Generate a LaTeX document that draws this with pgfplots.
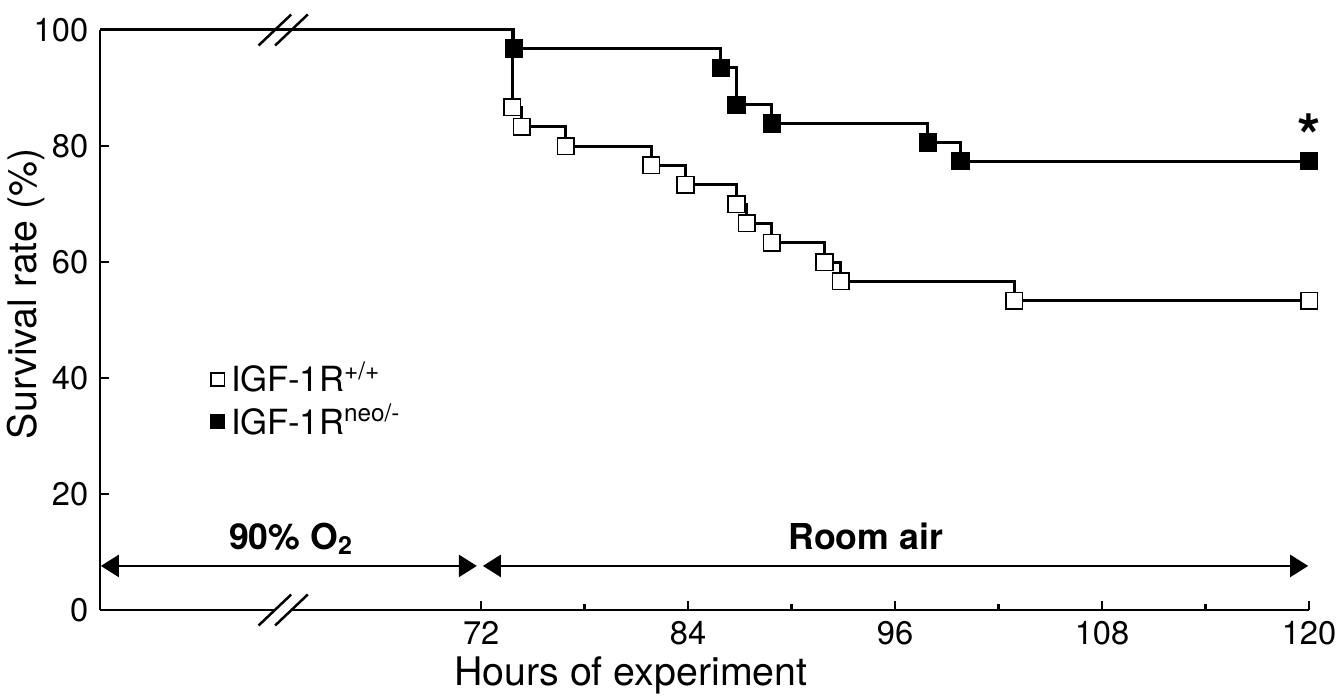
\documentclass[border=0pt]{standalone}
\usepackage{fontspec}
\setmainfont{TeX Gyre Heros}
\usepackage{pgfplots}
\pgfplotsset{compat=1.18}
\usetikzlibrary{arrows.meta}

\begin{document}
\begin{tikzpicture}
\useasboundingbox (-30pt,-25.8pt) rectangle (372.9pt,183pt);
\begin{axis}[
  scale only axis, width=362.7pt, height=174pt,
  xmin=49.9, xmax=120, ymin=0, ymax=100,
  axis x line=bottom, axis y line=left,
  axis line style={-, line width=0.75pt},
  xtick={72,84,96,108,120}, minor xtick={78,90,102,114},
  ytick={0,20,40,60,80,100},
  tick align=inside, major tick length=2.7pt, minor tick length=1.8pt,
  every tick/.style={black, line width=0.75pt},
  /pgf/number format/assume math mode=true,
  ticklabel style={font=\fontsize{9.8}{11}\selectfont},
  xlabel={Hours of experiment}, ylabel={Survival rate (\%)},
  label style={font=\fontsize{11.8}{13}\selectfont},
  xlabel style={at={(axis description cs:0.439,0)}, anchor=base, yshift=-22.5pt},
  ylabel style={at={(axis description cs:-0.0612,0.545)}, anchor=center},
  clip=false,
  legend style={at={(axis cs:56.3,44.0)}, anchor=north west, draw=none, fill=none,
    inner sep=0pt, row sep=-1.8pt, font=\fontsize{10.4}{12}\selectfont,
    /tikz/every even column/.append style={column sep=2pt}},
  legend cell align=left,
  legend image code/.code={\draw[#1, mark size=2pt] plot coordinates {(0.1cm,0cm)};},
]
% survival curves (lines)
\addplot[const plot, black, line width=0.9pt, forget plot] coordinates {
 (49.9,100) (73.8,86.7) (74.35,83.3) (76.9,80.0) (81.85,76.7) (83.85,73.3)
 (86.8,70.0) (87.4,66.7) (88.85,63.3) (91.9,60.0) (92.85,56.7) (102.9,53.3) (120,53.3)};
\addplot[const plot, black, line width=0.9pt, forget plot] coordinates {
 (49.9,100) (73.9,96.8) (85.9,93.5) (86.8,87.1) (88.85,83.9) (97.9,80.6) (99.8,77.4) (120,77.4)};
% markers
\addplot[only marks, mark=square*, mark size=2.5pt, mark options={fill=white, draw=black, line width=0.5pt}] coordinates {
 (73.8,86.7) (74.35,83.3) (76.9,80.0) (81.85,76.7) (83.85,73.3)
 (86.8,70.0) (87.4,66.7) (88.85,63.3) (91.9,60.0) (92.85,56.7) (102.9,53.3) (120,53.3)};
\addlegendentry{IGF-1R\textsuperscript{+/+}}
\addplot[only marks, mark=square*, mark size=2.5pt, mark options={fill=black, draw=black, line width=0.5pt}] coordinates {
 (73.9,96.8) (85.9,93.5) (86.8,87.1) (88.85,83.9) (97.9,80.6) (99.8,77.4) (120,77.4)};
\addlegendentry{IGF-1R\textsuperscript{neo/-}}

% axis break marks
\draw[white, line width=0.8pt] (axis cs:60.1,0) -- (axis cs:60.95,0);
\draw[black, line width=0.75pt] (axis cs:60.04,100) ++(-4.9pt,-4.65pt) -- ++(9.8pt,9.3pt);
\draw[black, line width=0.75pt] (axis cs:61.0,100) ++(-4.9pt,-4.65pt) -- ++(9.8pt,9.3pt);
\draw[black, line width=0.75pt] (axis cs:60.04,0) ++(-4.9pt,-4.65pt) -- ++(9.8pt,9.3pt);
\draw[black, line width=0.75pt] (axis cs:61.0,0) ++(-4.9pt,-4.65pt) -- ++(9.8pt,9.3pt);
% period arrows
\draw[line width=0.75pt, {Triangle[length=5.4pt,width=6.6pt]}-{Triangle[length=5.4pt,width=6.6pt]}]
  (axis cs:49.95,7.6) -- (axis cs:71.75,7.6);
\draw[line width=0.75pt, {Triangle[length=5.4pt,width=6.6pt]}-{Triangle[length=5.4pt,width=6.6pt]}]
  (axis cs:72.1,7.6) -- (axis cs:119.95,7.6);
\node[anchor=base, font=\bfseries\fontsize{10.7}{12}\selectfont] at (axis cs:61,10.5) {90\% O\textsubscript{2}};
\node[anchor=base, font=\bfseries\fontsize{10.7}{12}\selectfont] at (axis cs:94.3,10.5) {Room air};
\node[anchor=base, font=\bfseries\fontsize{18}{20}\selectfont] at (axis cs:120,78.1) {*};
\end{axis}
\end{tikzpicture}
\end{document}
